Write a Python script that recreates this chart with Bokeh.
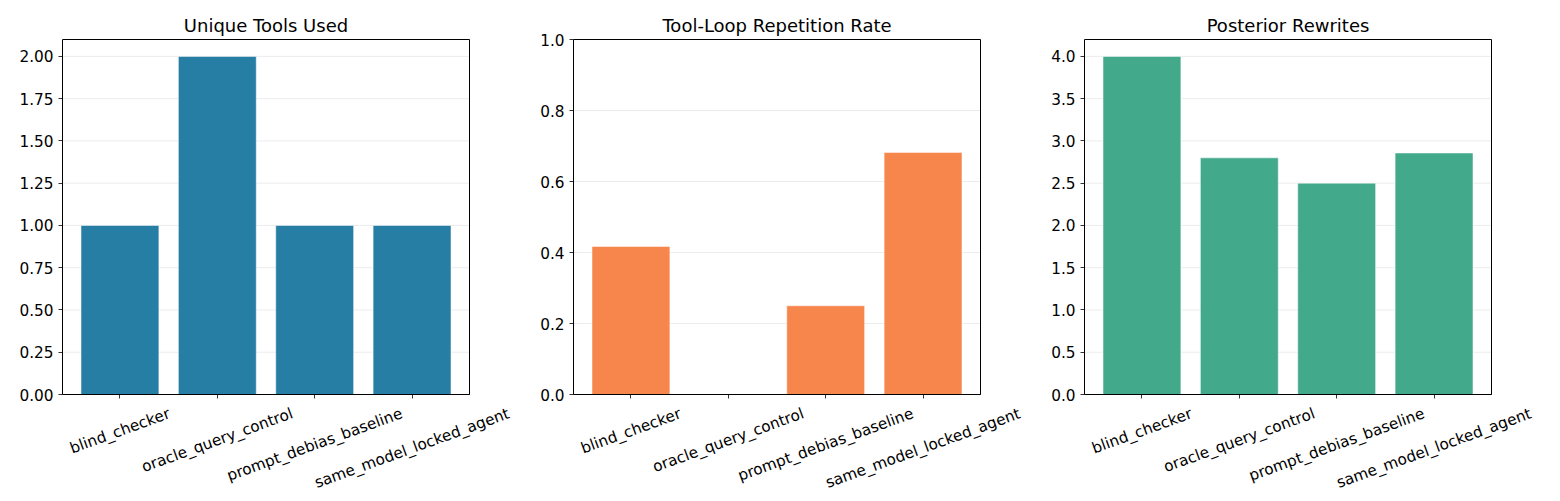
import math
from bokeh.plotting import figure
from bokeh.layouts import row
from bokeh.models import Range1d, FixedTicker, NumeralTickFormatter, Label, BoxAnnotation
from bokeh.embed import file_html
from bokeh.resources import INLINE

categories = ["blind_checker", "oracle_query_control", "prompt_debias_baseline", "same_model_locked_agent"]
unique_tools = [1.0, 2.0, 1.0, 1.0]
loop_rate = [0.417, 0.0, 0.25, 0.682]
posterior_rewrites = [4.0, 2.8, 2.5, 2.857]

titles = ["Unique Tools Used", "Tool-Loop Repetition Rate", "Posterior Rewrites"]
colors = ["#277ea4", "#f7864c", "#43a98b"]
y_ends = [2.1, 1.0, 4.2]
y_ticks = [[0, 0.25, 0.5, 0.75, 1.0, 1.25, 1.5, 1.75, 2.0],
           [0, 0.2, 0.4, 0.6, 0.8, 1.0],
           [0, 0.5, 1.0, 1.5, 2.0, 2.5, 3.0, 3.5, 4.0]]
y_formats = ["0.00", "0.0", "0.0"]
series = [unique_tools, loop_rate, posterior_rewrites]

FONT = "DejaVu Sans"
TICK_PX = 15.3
TITLE_PX = 18
# approximate DejaVu Sans advance widths (per 1000 em)
W = dict(a=613, b=635, c=550, d=635, e=615, f=352, g=635, h=634, i=278, k=579, l=278,
         m=974, n=634, o=612, p=635, q=635, r=411, s=521, t=392, u=634, y=592, _=500)


def text_w(s):
    return sum(W.get(ch, 600) for ch in s) * TICK_PX / 1000.0


# layout (pixels)
FIG_W = [511, 511, 538]
FIG_H = 501
LEFT = 62          # frame left inside each figure
PLOT_W = 407       # width of the drawn axes box
TOP = 39           # axes box top
BOTTOM = 394       # axes box bottom
X_LO, X_HI = -0.59, 3.59

ang = math.radians(20)
figs = []
for k in range(3):
    xs = list(range(len(categories)))
    ppu_x = PLOT_W / (X_HI - X_LO)
    frame_w = FIG_W[k] - LEFT
    x_end = X_LO + frame_w / ppu_x
    ppu_y = (BOTTOM - TOP) / y_ends[k]
    y_start = -(FIG_H - BOTTOM) / ppu_y
    y_top = y_ends[k] + TOP / ppu_y

    p = figure(width=FIG_W[k], height=FIG_H, output_backend="svg", toolbar_location=None,
               x_range=Range1d(X_LO, x_end), y_range=Range1d(y_start, y_top),
               min_border_left=LEFT, min_border_right=0, min_border_top=0, min_border_bottom=0)
    p.background_fill_color = "white"
    p.border_fill_color = "white"
    p.outline_line_color = None

    # grid lines
    p.segment(x0=[X_LO] * len(y_ticks[k]), x1=[X_HI] * len(y_ticks[k]),
              y0=y_ticks[k], y1=y_ticks[k], line_color="#b0b0b0", line_alpha=0.3, line_width=0.8)

    p.vbar(x=xs, top=series[k], width=0.8, fill_color=colors[k], fill_alpha=1.0,
           line_color="white", line_alpha=0.5, line_width=1)

    p.add_layout(BoxAnnotation(left=X_LO, right=X_HI, bottom=0, top=y_ends[k],
                               fill_alpha=0, fill_color=None, line_color="black",
                               line_width=1, line_alpha=1))

    p.xgrid.grid_line_color = None
    p.ygrid.grid_line_color = None

    p.yaxis.ticker = FixedTicker(ticks=y_ticks[k])
    p.yaxis.formatter = NumeralTickFormatter(format=y_formats[k])
    p.yaxis.bounds = (0, y_ends[k])
    p.xaxis.ticker = FixedTicker(ticks=xs)
    p.xaxis.major_label_overrides = {i: "" for i in xs}
    p.xaxis.fixed_location = 0
    p.xaxis.bounds = (X_LO, X_HI)
    for ax in (p.xaxis[0], p.yaxis[0]):
        ax.minor_tick_line_color = None
        ax.major_tick_in = 0
        ax.major_tick_out = 4
        ax.major_tick_line_width = 0.8
        ax.axis_line_color = "black"
        ax.major_label_text_font = FONT
        ax.major_label_text_font_size = f"{TICK_PX}px"
        ax.major_label_text_color = "#000000"
        ax.major_label_standoff = 5

    # title
    p.add_layout(Label(x=(X_LO + X_HI) / 2, y=y_ends[k], y_offset=14, text=titles[k],
                       text_align="center", text_baseline="alphabetic",
                       text_font=FONT, text_font_size=f"{TITLE_PX}px", text_color="#000000"))

    # rotated category labels, centred under their ticks
    for i, cat in enumerate(categories):
        w = text_w(cat)
        boxh = w * math.sin(ang) + 1.164 * TICK_PX * math.cos(ang)
        p.add_layout(Label(x=i, y=0, y_offset=-(10 + boxh / 2), text=cat, angle=ang,
                           text_align="center", text_baseline="middle",
                           text_font=FONT, text_font_size=f"{TICK_PX}px", text_color="#000000"))
    figs.append(p)

layout = row(*figs)
open("out.html", "w").write(file_html(layout, INLINE))
